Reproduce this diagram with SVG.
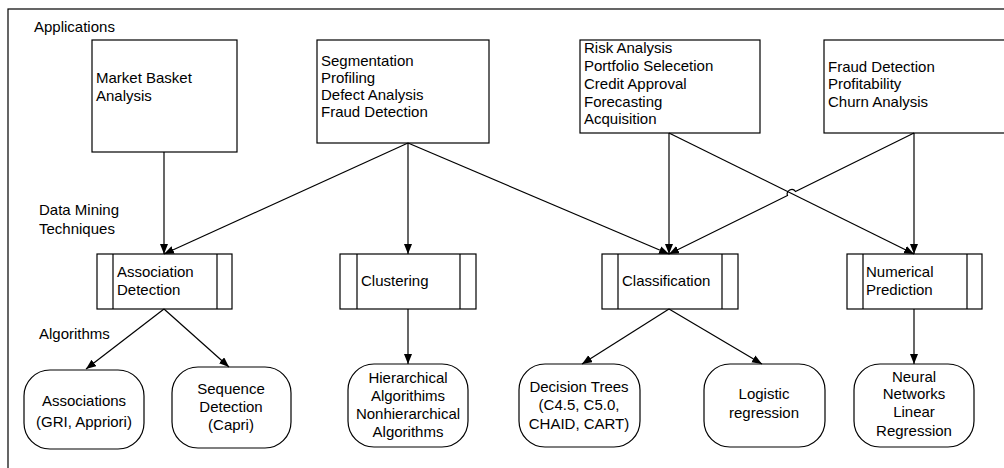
<svg xmlns="http://www.w3.org/2000/svg" width="1004" height="468" viewBox="0 0 1004 468">
<style>
text{font-family:"Liberation Sans",Arial,sans-serif;font-size:15px;fill:#000}
.c{text-anchor:middle}
.box{fill:#fff;stroke:#000;stroke-width:1.2}
.ln{fill:none;stroke:#000;stroke-width:1.2}
.con{fill:none;stroke:#000;stroke-width:1.2;marker-end:url(#ah)}
</style>
<defs>
<marker id="ah" markerUnits="userSpaceOnUse" markerWidth="11" markerHeight="9" refX="10" refY="4" orient="auto">
<path d="M0,0 L10,4 L0,8 z" fill="#000"/>
</marker>
</defs>
<rect width="1004" height="468" fill="#fff"/>
<g id="frame"><rect x="8" y="9" width="1010" height="470" class="ln"/></g>
<g id="labels">
<text x="34" y="32">Applications</text>
<text x="39" y="215">Data Mining</text>
<text x="39" y="234">Techniques</text>
<text x="39" y="339">Algorithms</text>
</g>
<g id="app-market">
<rect x="92" y="40" width="145" height="112" class="box"/>
<text x="96" y="83">Market Basket</text>
<text x="96" y="101">Analysis</text>
</g>
<g id="app-segmentation">
<rect x="317" y="40" width="172" height="103" class="box"/>
<text x="321" y="66">Segmentation</text>
<text x="321" y="83">Profiling</text>
<text x="321" y="100">Defect Analysis</text>
<text x="321" y="117">Fraud Detection</text>
</g>
<g id="app-risk">
<rect x="580" y="40" width="180" height="93" class="box"/>
<text x="584" y="53">Risk Analysis</text>
<text x="584" y="71">Portfolio Selecetion</text>
<text x="584" y="89">Credit Approval</text>
<text x="584" y="107">Forecasting</text>
<text x="584" y="124">Acquisition</text>
</g>
<g id="app-fraud">
<rect x="824" y="40" width="200" height="93" class="box"/>
<text x="828" y="72">Fraud Detection</text>
<text x="828" y="89">Profitability</text>
<text x="828" y="107">Churn Analysis</text>
</g>
<g id="tech-association">
<rect x="97" y="254" width="135" height="55" class="box"/>
<path d="M113,254 V309 M217,254 V309" class="ln"/>
<text x="117" y="277">Association</text>
<text x="117" y="295">Detection</text>
</g>
<g id="tech-clustering">
<rect x="340" y="254" width="136" height="55" class="box"/>
<path d="M357,254 V309 M460,254 V309" class="ln"/>
<text x="361" y="286">Clustering</text>
</g>
<g id="tech-classification">
<rect x="602" y="254" width="136" height="55" class="box"/>
<path d="M618,254 V309 M722,254 V309" class="ln"/>
<text x="622" y="286">Classification</text>
</g>
<g id="tech-numerical">
<rect x="847" y="254" width="135" height="55" class="box"/>
<path d="M863,254 V309 M967,254 V309" class="ln"/>
<text x="866" y="277">Numerical</text>
<text x="866" y="295">Prediction</text>
</g>
<g id="alg-associations">
<rect x="24" y="370" width="120" height="79" rx="26" class="box"/>
<text x="84" y="406" class="c">Associations</text>
<text x="84" y="427" class="c">(GRI, Appriori)</text>
</g>
<g id="alg-sequence">
<rect x="172" y="367" width="119" height="81" rx="26" class="box"/>
<text x="231" y="394" class="c">Sequence</text>
<text x="231" y="412" class="c">Detection</text>
<text x="231" y="430" class="c">(Capri)</text>
</g>
<g id="alg-hierarchical">
<rect x="348" y="364" width="120" height="83" rx="26" class="box"/>
<text x="408" y="383" class="c">Hierarchical</text>
<text x="408" y="401" class="c">Algorithims</text>
<text x="408" y="419" class="c">Nonhierarchical</text>
<text x="408" y="437" class="c">Algorithms</text>
</g>
<g id="alg-decision">
<rect x="519" y="364" width="121" height="83" rx="26" class="box"/>
<text x="579" y="392" class="c">Decision Trees</text>
<text x="579" y="410" class="c">(C4.5, C5.0,</text>
<text x="579" y="429" class="c">CHAID, CART)</text>
</g>
<g id="alg-logistic">
<rect x="704" y="364" width="121" height="83" rx="26" class="box"/>
<text x="764" y="399" class="c">Logistic</text>
<text x="764" y="418" class="c">regression</text>
</g>
<g id="alg-neural">
<rect x="854" y="364" width="120" height="83" rx="26" class="box"/>
<text x="914" y="382" class="c">Neural</text>
<text x="914" y="399" class="c">Networks</text>
<text x="914" y="417" class="c">Linear</text>
<text x="914" y="436" class="c">Regression</text>
</g>
<g id="connectors">
<path d="M164,152 L164,254" class="con"/>
<path d="M408,143 L164,254" class="con"/>
<path d="M408,143 L408,254" class="con"/>
<path d="M408,143 L669,254" class="con"/>
<path d="M669,133 L669,254" class="con"/>
<path d="M669,133 L914,254" class="con"/>
<path d="M914,133 L795.5,191.5 A4.5,4.5 0 0 0 787.5,195.5 L669,254" class="con"/>
<path d="M914,133 L914,254" class="con"/>
<path d="M164,309 L86,369" class="con"/>
<path d="M164,309 L229,367" class="con"/>
<path d="M408,309 L408,364" class="con"/>
<path d="M669,309 L582,364" class="con"/>
<path d="M669,309 L762,364" class="con"/>
<path d="M914,309 L914,364" class="con"/>
</g>
</svg>
